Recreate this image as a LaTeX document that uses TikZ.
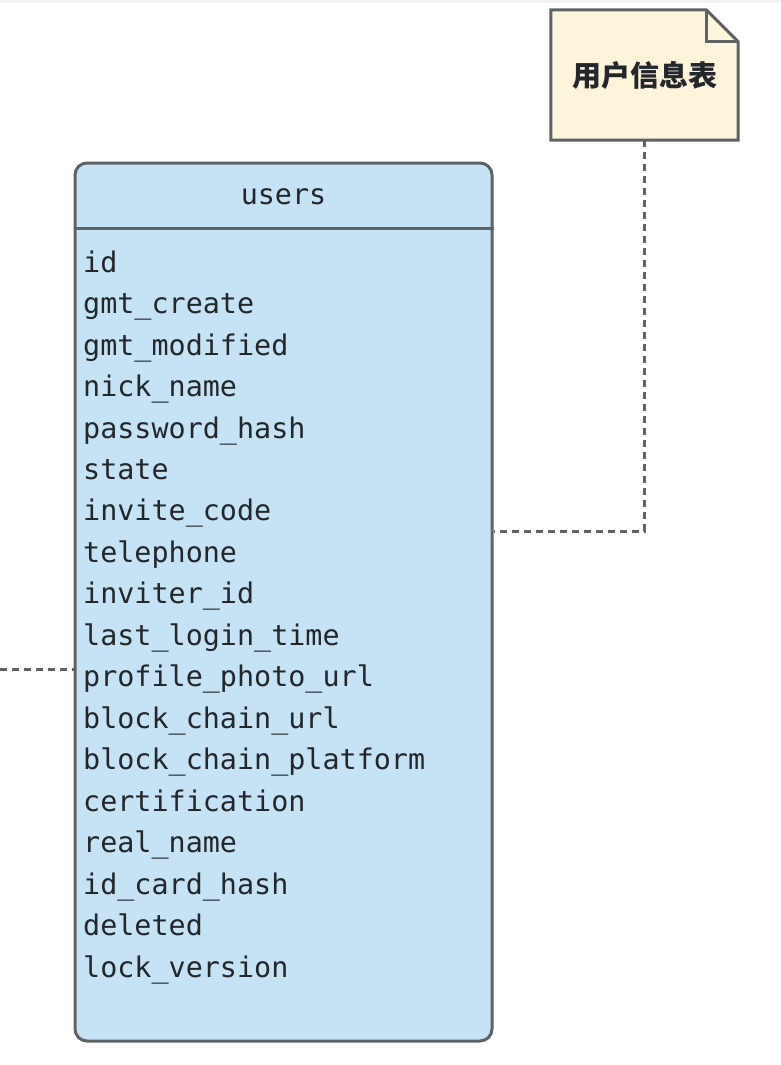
\documentclass[tikz,border=0pt]{standalone}
\usepackage{fontspec}
\setmonofont{DejaVu Sans Mono}
\newfontfamily\cjk{Noto Sans CJK SC}
\usetikzlibrary{calc}
\definecolor{tblfill}{HTML}{C5E3F5}
\definecolor{notefill}{HTML}{FDF4DC}
\definecolor{edge}{HTML}{5F6265}
\definecolor{ink}{HTML}{23272B}
\definecolor{topband}{HTML}{F2F2F2}
\tikzset{
  tblbox/.style={draw=edge, fill=tblfill, line width=3pt, rounded corners=12pt, minimum width=417pt, minimum height=878pt, inner sep=0pt},
  field/.style={anchor=mid west, inner sep=0pt, text=ink, font=\ttfamily\fontsize{28.4}{34}\selectfont},
  title/.style={anchor=mid, inner sep=0pt, text=ink, font=\ttfamily\fontsize{28.4}{34}\selectfont},
  notebox/.style={minimum width=187pt, minimum height=130pt, inner sep=0pt},
  notetext/.style={text=ink, font=\cjk\bfseries\fontsize{29}{33}\selectfont},
  conn/.style={draw=edge, line width=3pt, dash pattern=on 7pt off 5pt}
}
\begin{document}
\begin{tikzpicture}[x=1pt,y=-1pt]
\useasboundingbox (0,0) rectangle (780,1065);
\fill[topband] (0,0) rectangle (780,3);
% table
\node[tblbox] (tbl) at (283.5,602) {};
\draw[edge, line width=3pt] (tbl.west |- 0,228) -- (tbl.east |- 0,228);
\node[title] (ttl) at (283.5,202) {users};
\foreach \n [count=\i from 0] in {id,gmt\_create,gmt\_modified,nick\_name,password\_hash,state,invite\_code,telephone,inviter\_id,last\_login\_time,profile\_photo\_url,block\_chain\_url,block\_chain\_platform,certification,real\_name,id\_card\_hash,deleted,lock\_version}{
  \node[field] (f\i) at (83,{270+41.47*\i}) {\n};
}
% note
\node[notebox] (note) at (644.5,75) {};
\draw[edge, fill=notefill, line width=3pt, line join=miter]
  (note.north west) -- ($(note.north east)+(-32,0)$) -- ($(note.north east)+(0,32)$) -- (note.south east) -- (note.south west) -- cycle;
\draw[edge, line width=3pt, line join=miter]
  ($(note.north east)+(-32,0)$) -- ($(note.north east)+(-32,32)$) -- ($(note.north east)+(0,32)$);
\node[notetext] (notelbl) at (note.center) {用户信息表};
% connectors
\coordinate (bend) at (644.5,531);
\coordinate (leftend) at (0,669);
\draw[conn] (note.south) -- (bend) -- (tbl.east |- bend);
\draw[conn] (leftend) -- (tbl.west |- leftend);
\end{tikzpicture}
\end{document}
